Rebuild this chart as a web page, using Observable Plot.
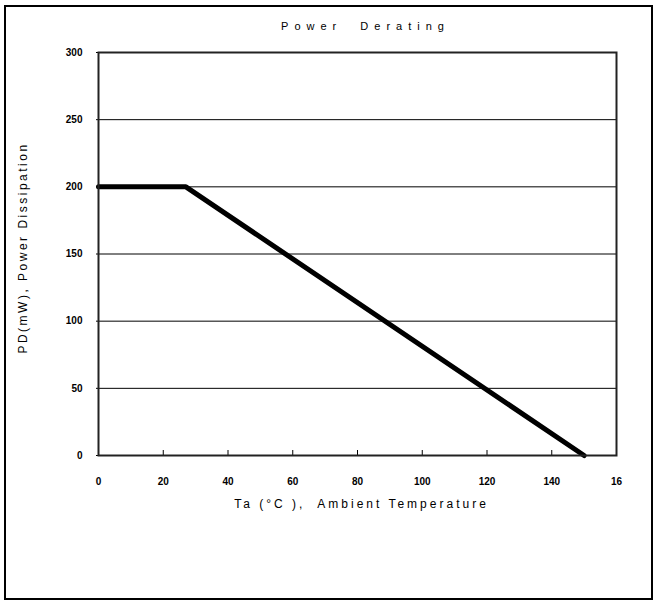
<!DOCTYPE html>
<html>
<head>
<meta charset="utf-8">
<script src="https://cdn.jsdelivr.net/npm/d3@7"></script>
<script src="https://cdn.jsdelivr.net/npm/@observablehq/plot@0.6"></script>
<style>
  html, body { margin: 0; padding: 0; background: #fff; }
  #wrap { position: relative; width: 657px; height: 604px; overflow: hidden; }
  #border { position: absolute; left: 4px; top: 5px; width: 645px; height: 591px; border: 2px solid #000; pointer-events: none; }
  #chart { position: absolute; left: 0; top: 0; }
</style>
</head>
<body>
<div id="wrap"><div id="chart"></div><div id="border"></div></div>
<script>
const titleText = "Power  Derating";
const xLabelText = "Ta (°C ),  Ambient Temperature";
const yLabelText = "PD(mW), Power Dissipation";

const temps = [0, 27, 150];
const power = [200, 200, 0];

const xTicks = [0, 20, 40, 60, 80, 100, 120, 140, 160];
const xTickLabels = ["0", "20", "40", "60", "80", "100", "120", "140", "16"];
const yTicks = [0, 50, 100, 150, 200, 250, 300];
const yTickLabels = ["0", "50", "100", "150", "200", "250", "300"];

const data = temps.map((t, i) => ({t, p: power[i]}));

const font = "'Liberation Sans', Arial, sans-serif";

const chart = Plot.plot({
  width: 657,
  height: 604,
  marginLeft: 98,
  marginRight: 41,
  marginTop: 52,
  marginBottom: 149,
  style: {fontFamily: font, fontSize: "10px", background: "transparent", color: "#000"},
  x: {domain: [0, 160], label: null},
  y: {domain: [0, 300], label: null},
  marks: [
    Plot.gridY(yTicks, {stroke: "#000", strokeOpacity: 1, strokeWidth: 1}),
    Plot.tickX(xTicks.slice(1, -1), {x: d => d, insetTop: 398, stroke: "#000", strokeWidth: 1}),
    Plot.axisX({ticks: xTicks, tickSize: 0, tickPadding: 22, tickFormat: (d) => xTickLabels[xTicks.indexOf(d)], fontWeight: "bold", fontSize: 10, label: null}),
    Plot.axisY({ticks: yTicks, tickSize: 2, tickPadding: 14, tickFormat: (d) => yTickLabels[yTicks.indexOf(d)], fontWeight: "bold", fontSize: 10, label: null}),
    Plot.line(data, {x: "t", y: "p", stroke: "#000", strokeWidth: 5, strokeLinejoin: "miter"}),
    Plot.frame({stroke: "#222", strokeWidth: 2}),
    Plot.text([titleText], {text: d => d, frameAnchor: "top", dx: 8, dy: -30, fontSize: 11}),
    Plot.text([xLabelText], {text: d => d, frameAnchor: "bottom", dx: 4, dy: 52, fontSize: 12}),
    Plot.text([yLabelText], {text: d => d, frameAnchor: "left", textAnchor: "middle", rotate: -90, dx: -75, dy: -6, fontSize: 12})
  ]
});
const spacing = new Map([[titleText, "6px"], [xLabelText, "3px"], [yLabelText, "2.5px"]]);
d3.select(chart).selectAll("text").each(function () {
  const s = spacing.get(this.textContent);
  if (s) {
    this.setAttribute("letter-spacing", s);
    this.style.letterSpacing = s;
    this.style.whiteSpace = "pre";
  }
});
document.getElementById("chart").appendChild(chart);
</script>
</body>
</html>
